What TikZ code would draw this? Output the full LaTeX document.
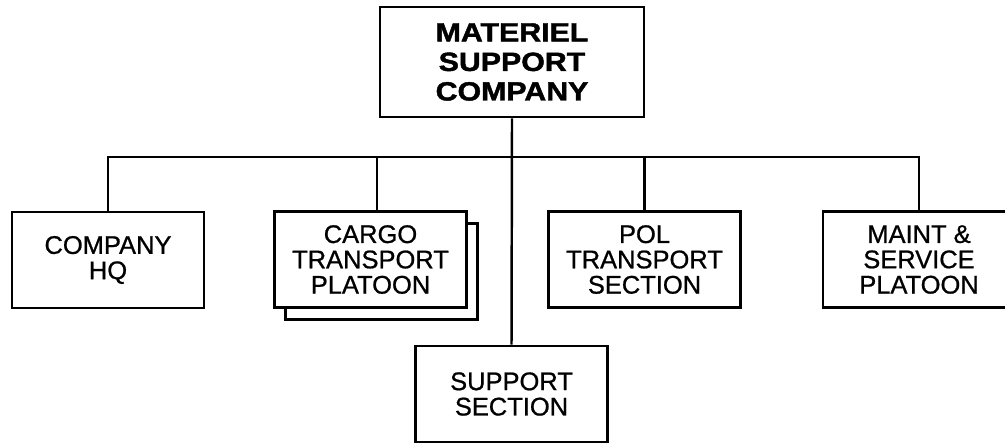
\documentclass[tikz,border=0pt]{standalone}
\usepackage{fontspec}
\setsansfont[FakeBold=0.8]{Liberation Sans}
\newfontfamily\headfont[FakeStretch=1.15,FakeBold=1.6]{Liberation Sans Bold}
\usepackage{tikz}
\usetikzlibrary{positioning, calc}

\begin{document}
\begin{tikzpicture}[x=0.2mm, y=-0.2mm,
  font=\sffamily\fontsize{14.5}{14.4}\selectfont,
  box/.style={draw, line width=1.5pt, fill=white, align=center, inner sep=2pt,
    minimum width=38.4mm, minimum height=19.2mm},
  link/.style={line width=1.4pt}]
\useasboundingbox (0,0) rectangle (1005,443);

\node[box, minimum width=52.8mm, minimum height=22mm,
  font=\headfont\fontsize{15}{16.8}\selectfont](msc) at (512,62) {MATERIEL\\SUPPORT\\COMPANY};
\coordinate (bus) at (512,157);

\node[box](hq) at (108,260) {COMPANY\\HQ};
\node[box](cargoback) at (381.5,271.5) {};
\node[box](cargo) at (370.5,259.5) {CARGO\\TRANSPORT\\PLATOON};
\node[box](pol) at (644.5,259.5) {POL\\TRANSPORT\\SECTION};
\node[box](mt) at (919,259.5) {MAINT \&\\SERVICE\\PLATOON};
\node[box](sup) at (511.5,394) {SUPPORT\\SECTION};

\draw[link](msc.south)--(sup.north);
\draw[link](hq.north) |- (bus) -| (mt.north);
\draw[link]([xshift=1.3mm]cargo.north)--([xshift=1.3mm]cargo.north |- bus);
\draw[link](pol.north)--(pol.north |- bus);

\end{tikzpicture}
\end{document}
